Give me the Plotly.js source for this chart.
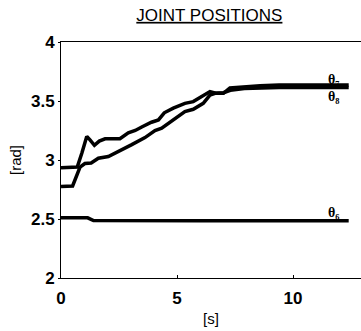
<!DOCTYPE html>
<html><head><meta charset="utf-8">
<script src="https://cdn.plot.ly/plotly-3.0.1.min.js"></script>
<style>html,body{margin:0;padding:0;background:#fff}#c{width:361px;height:331px}</style>
</head><body><div id="c"></div>
<script>
const t7 = [0, 0.35, 0.7, 0.9, 1.11, 1.25, 1.44, 1.65, 1.9, 2.2, 2.54, 2.9, 3.2, 3.48, 3.9, 4.2, 4.45, 4.84, 5.1, 5.34, 5.7, 6.06, 6.42, 6.71, 7.0, 7.28, 7.86, 8.58, 9.4, 10.5, 11.5, 12.4];
const theta7 = [2.935, 2.935, 2.94, 3.06, 3.2, 3.17, 3.125, 3.16, 3.18, 3.18, 3.18, 3.23, 3.25, 3.28, 3.32, 3.34, 3.40, 3.44, 3.46, 3.48, 3.495, 3.535, 3.58, 3.565, 3.565, 3.61, 3.62, 3.63, 3.635, 3.635, 3.635, 3.635];
const t8 = [0, 0.35, 0.5, 0.82, 1.03, 1.3, 1.61, 2.04, 2.47, 3.05, 3.62, 4.05, 4.34, 4.84, 5.34, 5.7, 6.13, 6.42, 6.64, 7.0, 7.3, 7.9, 8.6, 9.4, 10.5, 11.5, 12.4];
const theta8 = [2.775, 2.775, 2.78, 2.94, 2.97, 2.975, 3.015, 3.03, 3.07, 3.13, 3.19, 3.25, 3.27, 3.34, 3.41, 3.43, 3.48, 3.55, 3.565, 3.57, 3.59, 3.605, 3.61, 3.615, 3.615, 3.615, 3.615];
const t6 = [0, 0.5, 1.0, 1.15, 1.4, 2, 4, 6, 8, 10, 12.4];
const theta6 = [2.51, 2.512, 2.512, 2.51, 2.487, 2.486, 2.486, 2.485, 2.486, 2.485, 2.485];
const seriesNames = ['θ₇', 'θ₈', 'θ₆'];
const xTicks = [0, 5, 10];
const yTicks = [2, 2.5, 3, 3.5, 4];

const lineStyle = {color: '#000', width: 3.5};
const traces = [
  {x: t7, y: theta7, mode: 'lines', line: lineStyle, name: seriesNames[0]},
  {x: t8, y: theta8, mode: 'lines', line: lineStyle, name: seriesNames[1]},
  {x: t6, y: theta6, mode: 'lines', line: lineStyle, name: seriesNames[2]}
];
const lblFont = {family: 'Liberation Serif', size: 14, color: '#000', weight: 'bold'};
const layout = {
  width: 361, height: 331,
  margin: {l: 61, r: 0, t: 42, b: 53},
  paper_bgcolor: '#fff', plot_bgcolor: '#fff',
  showlegend: false,
  title: {text: '<u>JOINT POSITIONS</u>', x: 0.58, xanchor: 'center', y: 0.955, yanchor: 'middle',
    font: {family: 'Liberation Sans', size: 17, color: '#000'}},
  xaxis: {range: [0, 12.93], tickvals: xTicks, ticktext: xTicks.map(String), automargin: false,
    showgrid: false, zeroline: false, showline: true, linecolor: '#000', linewidth: 1, mirror: true,
    ticks: 'inside', ticklen: 3, tickcolor: '#000', ticklabelstandoff: 5,
    tickfont: {family: 'Liberation Sans', size: 17, color: '#000', weight: 'bold'},
    title: {text: '[s]', font: {family: 'Liberation Sans', size: 15, color: '#000'}, standoff: 6}},
  yaxis: {range: [2, 4], tickvals: yTicks, ticktext: yTicks.map(String), automargin: false,
    showgrid: false, zeroline: false, showline: true, linecolor: '#000', linewidth: 1, mirror: true,
    ticks: 'outside', ticklen: 2, tickcolor: '#000',
    tickfont: {family: 'Liberation Sans', size: 17, color: '#000', weight: 'bold'},
    title: {text: '[rad]', font: {family: 'Liberation Sans', size: 15, color: '#000'}, standoff: 5}},
  annotations: [
    {x: 11.77, y: 3.685, text: seriesNames[0], showarrow: false, font: lblFont},
    {x: 11.77, y: 3.54, text: seriesNames[1], showarrow: false, font: lblFont},
    {x: 11.77, y: 2.555, text: seriesNames[2], showarrow: false, font: lblFont}
  ]
};
Plotly.newPlot('c', traces, layout, {staticPlot: true});
</script>
</body></html>
